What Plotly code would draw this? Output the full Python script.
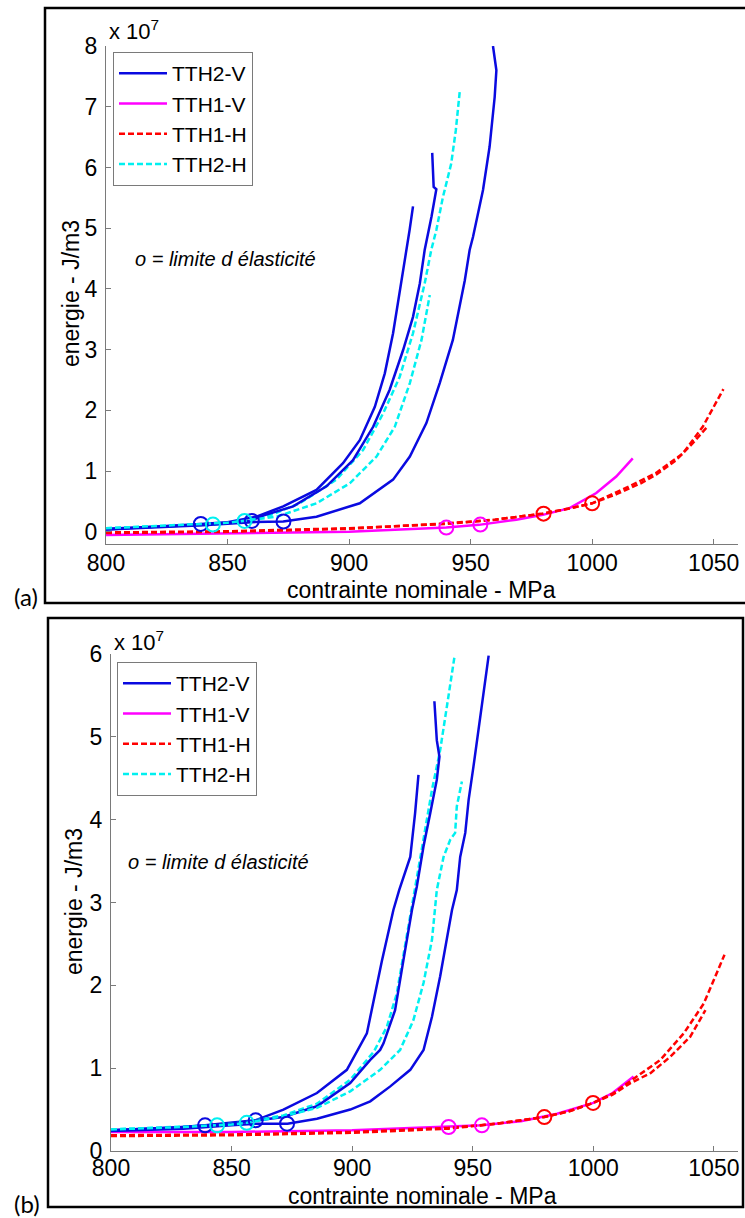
import plotly.graph_objects as go

# Stress in MPa, energy in units of 1e7 J/m3 (axis shows "x 10^7")
# ---------------- Panel (a) ----------------
a_tth2v_1_x = [800, 820, 839, 850, 861.9, 872.9, 886.6, 897.5, 904.4, 910.6, 914.7, 918.1, 921.5, 923.6, 924.9, 926.3]
a_tth2v_1_y = [0.04, 0.08, 0.13, 0.16, 0.25, 0.42, 0.69, 1.13, 1.51, 2.06, 2.61, 3.27, 4.09, 4.64, 4.97, 5.36]
a_tth2v_2_x = [800, 830, 850, 859.9, 863.3, 877, 890.7, 901.6, 909.9, 916.7, 922.2, 926.3, 929.1, 931.1, 933.9, 935.9, 934.8, 934.5, 934.2]
a_tth2v_2_y = [0.05, 0.10, 0.15, 0.18, 0.25, 0.42, 0.75, 1.18, 1.73, 2.34, 2.99, 3.54, 4.09, 4.64, 5.19, 5.64, 5.68, 5.95, 6.24]
a_tth2v_3_x = [800, 840, 860, 872.9, 886.6, 904.4, 918.1, 925, 931.8, 937.3, 942.7, 946.2, 947.6, 949.6, 951, 955.1, 957.8, 959.9, 960.6, 959.2]
a_tth2v_3_y = [0.04, 0.11, 0.16, 0.17, 0.25, 0.47, 0.86, 1.24, 1.79, 2.45, 3.16, 3.82, 4.14, 4.64, 4.86, 5.63, 6.34, 7.16, 7.6, 8.0]
a_tth2h_1_x = [800, 830, 844.1, 856, 866, 879.7, 894.8, 905.8, 914, 920.8, 926.3, 931.1, 933.8, 935.9, 938.6, 942, 943.9, 945.5]
a_tth2h_1_y = [0.06, 0.10, 0.12, 0.17, 0.25, 0.47, 0.86, 1.35, 1.95, 2.55, 3.27, 4.09, 4.64, 4.97, 5.51, 6.06, 6.61, 7.24]
a_tth2h_2_x = [800, 830, 850, 856.4, 870.2, 886.6, 900.3, 911.3, 918.8, 925, 929.8, 933.2]
a_tth2h_2_y = [0.06, 0.11, 0.15, 0.18, 0.25, 0.47, 0.80, 1.24, 1.73, 2.45, 3.16, 3.90]
a_tth1v_1_x = [800, 850, 900, 940, 953.4, 968.8, 979.7, 990.7, 1001.7, 1009.9, 1016.7]
a_tth1v_1_y = [-0.05, -0.03, 0.0, 0.07, 0.115, 0.20, 0.28, 0.39, 0.64, 0.91, 1.21]
a_tth1h_1_x = [800, 850, 900, 940, 960, 979.7, 990, 1000, 1004.4, 1015.4, 1026.3, 1037.3, 1045.5, 1054]
a_tth1h_1_y = [-0.02, 0.0, 0.05, 0.14, 0.2, 0.30, 0.38, 0.47, 0.55, 0.75, 0.97, 1.29, 1.73, 2.35]
a_tth1h_2_x = [800, 850, 900, 940, 960, 979.7, 990, 1000, 1010, 1020, 1026.3, 1034.5, 1041.4, 1047.6]
a_tth1h_2_y = [-0.01, 0.01, 0.06, 0.13, 0.2, 0.30, 0.38, 0.47, 0.62, 0.80, 0.94, 1.18, 1.46, 1.74]
# elastic limits (markers)
a_mk_tth2v_x = [839, 860, 873]
a_mk_tth2v_y = [0.13, 0.18, 0.17]
a_mk_tth2h_x = [844, 857]
a_mk_tth2h_y = [0.12, 0.18]
a_mk_tth1v_x = [940, 954]
a_mk_tth1v_y = [0.07, 0.12]
a_mk_tth1h_x = [980, 1000]
a_mk_tth1h_y = [0.30, 0.47]

# ---------------- Panel (b) ----------------
b_tth2v_1_x = [800, 825, 839, 850, 859.8, 871.5, 885.4, 897.8, 906.1, 912.3, 917.1, 919.5, 924.1, 926.1, 927.5]
b_tth2v_1_y = [0.25, 0.28, 0.31, 0.34, 0.37, 0.50, 0.70, 0.98, 1.42, 2.29, 2.91, 3.15, 3.55, 4.08, 4.54]
b_tth2v_2_x = [800, 830, 850, 860, 871.5, 885.4, 899.2, 907.5, 911.6, 913, 917.8, 921.3, 924.8, 926.8, 929.6, 932.4, 935.1, 936.2, 935.1, 934.1]
b_tth2v_2_y = [0.25, 0.29, 0.33, 0.37, 0.41, 0.54, 0.82, 1.10, 1.22, 1.30, 1.70, 2.31, 2.91, 3.19, 3.68, 4.08, 4.48, 4.76, 4.96, 5.43]
b_tth2v_3_x = [800, 830, 850, 860, 873.2, 885.4, 899.2, 907.5, 915.8, 924.1, 929.6, 933.1, 936.5, 941.4, 943.4, 944.8, 946.9, 948.3, 950.3, 952.4, 954.5, 956.6]
b_tth2v_3_y = [0.24, 0.27, 0.31, 0.33, 0.33, 0.39, 0.50, 0.60, 0.78, 0.98, 1.22, 1.62, 2.11, 2.91, 3.15, 3.55, 3.84, 4.24, 4.64, 5.08, 5.57, 5.98]
b_tth2h_1_x = [800, 830, 843.9, 856, 871.5, 885.4, 899.2, 909, 914.4, 918.5, 922.7, 926, 929.5, 933.1, 936.5, 939.3, 942.5]
b_tth2h_1_y = [0.26, 0.29, 0.31, 0.35, 0.43, 0.57, 0.86, 1.20, 1.50, 1.90, 2.59, 3.15, 3.75, 4.36, 4.84, 5.37, 5.98]
b_tth2h_2_x = [800, 830, 850, 856.3, 871.5, 885.4, 899.2, 911.6, 919.9, 925.4, 929.6, 933.1, 935.1, 937.9, 940.7, 942.7, 943.4, 945.5]
b_tth2h_2_y = [0.26, 0.29, 0.32, 0.34, 0.42, 0.52, 0.72, 0.98, 1.22, 1.58, 2.03, 2.55, 3.15, 3.55, 3.76, 3.84, 4.16, 4.46]
b_tth1v_1_x = [800, 850, 900, 940, 953.8, 970, 985, 1000, 1008, 1016.7]
b_tth1v_1_y = [0.23, 0.23, 0.25, 0.29, 0.31, 0.36, 0.45, 0.58, 0.70, 0.90]
b_tth1h_1_x = [800, 850, 900, 940, 960, 979.7, 990, 999.9, 1008.4, 1018.1, 1027.8, 1037.5, 1045.8, 1054.4]
b_tth1h_1_y = [0.19, 0.20, 0.23, 0.28, 0.33, 0.41, 0.48, 0.58, 0.70, 0.90, 1.10, 1.42, 1.78, 2.37]
b_tth1h_2_x = [800, 850, 900, 940, 960, 979.7, 990, 999.9, 1008, 1015.4, 1023.7, 1032, 1040.2, 1046.5]
b_tth1h_2_y = [0.18, 0.19, 0.22, 0.27, 0.33, 0.41, 0.48, 0.58, 0.68, 0.82, 0.94, 1.14, 1.38, 1.70]
b_mk_tth2v_x = [839, 860, 873]
b_mk_tth2v_y = [0.31, 0.37, 0.33]
b_mk_tth2h_x = [844, 856.3]
b_mk_tth2h_y = [0.31, 0.34]
b_mk_tth1v_x = [940, 953.8]
b_mk_tth1v_y = [0.29, 0.31]
b_mk_tth1h_x = [979.7, 999.9]
b_mk_tth1h_y = [0.41, 0.58]

x_ticks = [800, 850, 900, 950, 1000, 1050]
a_y_ticks = [0, 1, 2, 3, 4, 5, 6, 7, 8]
b_y_ticks = [0, 1, 2, 3, 4, 5, 6]

BLUE = "#0a0ae0"
MAG = "#ff00ff"
RED = "#ff0000"
CYAN = "#00f0f0"
FONT = "Arial, Liberation Sans, sans-serif"
W, H = 745, 1218

fig = go.Figure()

def curve(x, y, color, dash, name, xa, ya, leg, show):
    fig.add_trace(go.Scatter(x=x, y=y, mode="lines", name=name,
                             line=dict(color=color, width=2.5, dash=dash),
                             xaxis=xa, yaxis=ya, legend=leg, showlegend=show))

def marks(x, y, color, xa, ya, leg):
    fig.add_trace(go.Scatter(x=x, y=y, mode="markers",
                             marker=dict(symbol="circle-open", size=14, color=color,
                                         line=dict(width=2, color=color)),
                             xaxis=xa, yaxis=ya, legend=leg, showlegend=False))

DASH = "6px,3px"
for p, xa, ya, leg in [("a", "x", "y", "legend"), ("b", "x2", "y2", "legend2")]:
    g = globals()
    # legend order: TTH2-V, TTH1-V, TTH1-H, TTH2-H
    curve(g[p + "_tth2v_1_x"], g[p + "_tth2v_1_y"], BLUE, "solid", "TTH2-V", xa, ya, leg, True)
    curve(g[p + "_tth1v_1_x"], g[p + "_tth1v_1_y"], MAG, "solid", "TTH1-V", xa, ya, leg, True)
    curve(g[p + "_tth1h_1_x"], g[p + "_tth1h_1_y"], RED, DASH, "TTH1-H", xa, ya, leg, True)
    curve(g[p + "_tth2h_1_x"], g[p + "_tth2h_1_y"], CYAN, DASH, "TTH2-H", xa, ya, leg, True)
    curve(g[p + "_tth2v_2_x"], g[p + "_tth2v_2_y"], BLUE, "solid", "TTH2-V", xa, ya, leg, False)
    curve(g[p + "_tth2v_3_x"], g[p + "_tth2v_3_y"], BLUE, "solid", "TTH2-V", xa, ya, leg, False)
    curve(g[p + "_tth1h_2_x"], g[p + "_tth1h_2_y"], RED, DASH, "TTH1-H", xa, ya, leg, False)
    curve(g[p + "_tth2h_2_x"], g[p + "_tth2h_2_y"], CYAN, DASH, "TTH2-H", xa, ya, leg, False)
    marks(g[p + "_mk_tth2v_x"], g[p + "_mk_tth2v_y"], BLUE, xa, ya, leg)
    marks(g[p + "_mk_tth2h_x"], g[p + "_mk_tth2h_y"], CYAN, xa, ya, leg)
    marks(g[p + "_mk_tth1v_x"], g[p + "_mk_tth1v_y"], MAG, xa, ya, leg)
    marks(g[p + "_mk_tth1h_x"], g[p + "_mk_tth1h_y"], RED, xa, ya, leg)

def px(x):
    return x / W

def py(y):
    return 1 - y / H

axis_common = dict(showgrid=False, zeroline=False, showline=True, linecolor="#7a7a7a",
                   linewidth=1, ticks="inside", ticklen=5, tickcolor="#7a7a7a",
                   automargin=False,
                   tickfont=dict(family=FONT, size=23, color="black"), mirror=False)

legend_common = dict(xanchor="left", yanchor="top", bgcolor="white",
                     bordercolor="#7a7a7a", borderwidth=1,
                     font=dict(family=FONT, size=21, color="black"),
                     itemwidth=48, tracegroupgap=0)

fig.update_layout(
    width=W, height=H, margin=dict(l=0, r=0, t=0, b=0, autoexpand=False),
    paper_bgcolor="white", plot_bgcolor="white",
    font=dict(family=FONT, color="black"),
    xaxis=dict(domain=[px(106), px(738)], anchor="y", range=[800, 1060],
               tickvals=x_ticks, ticklabelstandoff=-2, **axis_common),
    yaxis=dict(domain=[py(544), py(46)], anchor="x", range=[-0.2, 8],
               tickvals=a_y_ticks, ticklabelstandoff=3, **axis_common),
    xaxis2=dict(domain=[px(111), px(738)], anchor="y2", range=[800, 1060],
                tickvals=x_ticks, ticklabelstandoff=-4, **axis_common),
    yaxis2=dict(domain=[py(1151), py(654)], anchor="x2", range=[0, 6],
                tickvals=b_y_ticks, ticklabelstandoff=3, **axis_common),
    legend=dict(x=px(113), y=py(52), **legend_common),
    legend2=dict(x=px(117), y=py(662), **legend_common),
)

ann = []
def text(x, y, t, size, xanchor="center", yanchor="middle", angle=0, italic=False, family=FONT):
    ann.append(dict(x=px(x), y=py(y), xref="paper", yref="paper", text=t, showarrow=False,
                    xanchor=xanchor, yanchor=yanchor, textangle=angle,
                    font=dict(family=family, size=size, color="black",
                              style="italic" if italic else "normal")))

# panel (a)
text(107, 30, "x 10<sup>7</sup>", 22, xanchor="left")
text(133, 259, "o = limite d élasticité", 20, xanchor="left", italic=True)
text(421, 590, "contrainte nominale - MPa", 23)
text(71, 294, "energie - J/m3", 23, angle=-90)
text(26, 596, "(a)", 24, family="Lato, Arial, sans-serif")
# panel (b)
text(112, 641, "x 10<sup>7</sup>", 22, xanchor="left")
text(126, 862, "o = limite d élasticité", 20, xanchor="left", italic=True)
text(422, 1196, "contrainte nominale - MPa", 23)
text(74, 902, "energie - J/m3", 23, angle=-90)
text(27, 1203, "(b)", 24, family="Lato, Arial, sans-serif")
fig.update_layout(annotations=ann)

fig.update_layout(shapes=[
    dict(type="rect", xref="paper", yref="paper", x0=px(45), x1=px(748), y0=py(603), y1=py(8),
         line=dict(color="black", width=2.5)),
    dict(type="rect", xref="paper", yref="paper", x0=px(48), x1=px(743), y0=py(1207), y1=py(618),
         line=dict(color="black", width=2.5)),
])

fig.write_html("out.html", config={"displayModeBar": False},
               post_script="document.body.style.margin='0px';")
